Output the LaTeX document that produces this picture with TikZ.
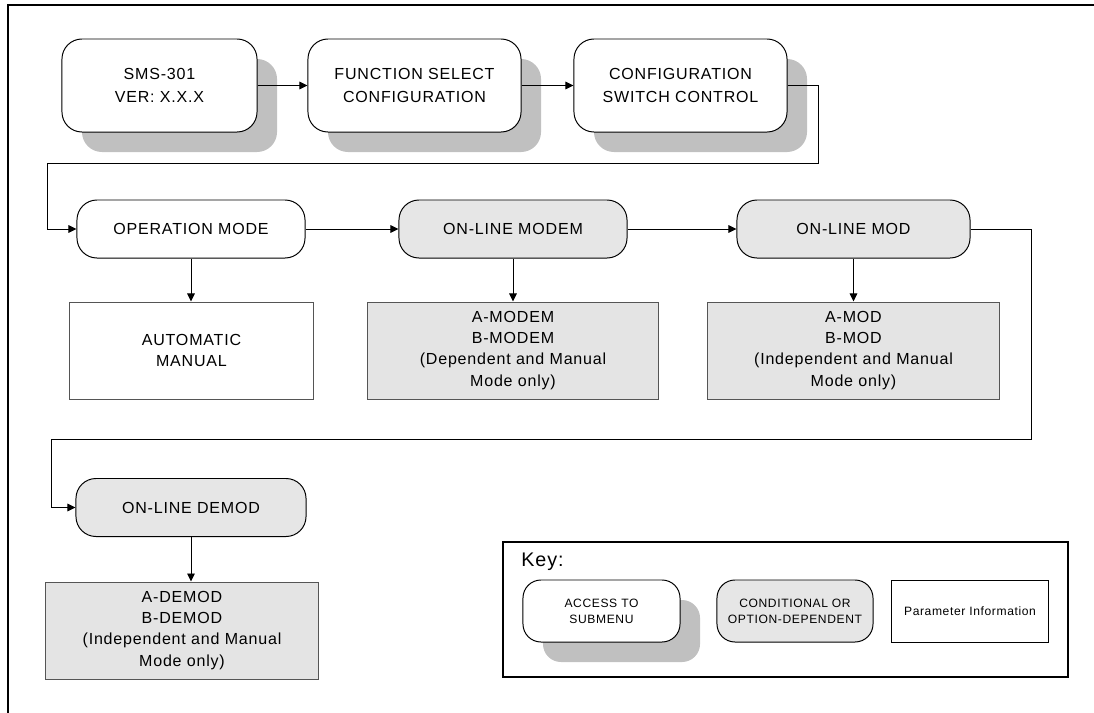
\documentclass[tikz,border=0pt]{standalone}
\usepackage{fontspec}
\setmainfont{Liberation Sans}[LetterSpace=5]
\usepackage{xcolor}
\usetikzlibrary{arrows.meta, shadows, positioning}
\definecolor{shadowgray}{RGB}{192,192,192}
\definecolor{condgray}{RGB}{230,230,230}
\definecolor{paramgray}{RGB}{228,228,228}
\definecolor{edgegray}{RGB}{85,85,85}

\begin{document}
\begin{tikzpicture}[
    x=0.025cm, y=-0.025cm,
    submenu/.style={draw, line width=0.7pt, fill=white, rounded corners=0.5cm, align=center, inner sep=0pt,
        font=\fontsize{11.4}{16}\selectfont, minimum width=5.325cm, minimum height=2.325cm,
        drop shadow={shadow xshift=0.5cm, shadow yshift=-0.5cm, fill=shadowgray, opacity=1}},
    menu/.style={draw, line width=0.7pt, fill=white, rounded corners=0.5cm, align=center, inner sep=0pt,
        font=\fontsize{11.4}{16}\selectfont, minimum width=5.7cm, minimum height=1.45cm},
    conditional/.style={menu, fill=condgray},
    param/.style={draw=edgegray, line width=0.7pt, fill=white, align=center, inner sep=0pt,
        font=\fontsize{11.4}{15}\selectfont, minimum width=6.075cm, minimum height=2.425cm},
    paramcond/.style={param, fill=paramgray},
    flow/.style={-{Triangle[length=2mm, width=1.9mm]}, line width=0.6pt}
]
    \useasboundingbox (0,0) rectangle (1094,712);

    % Page frame
    \draw[line width=2.1pt] (1110,5) -- (8,5) -- (8,730);

    % Top row
    \node[submenu, minimum width=4.875cm] (sms) at (159.5,85.5) {SMS-301\\VER: X.X.X};
    \node[submenu] (fsel) at (414.5,85.5) {FUNCTION SELECT\\CONFIGURATION};
    \node[submenu] (cfg) at (680.5,85.5) {CONFIGURATION\\SWITCH CONTROL};

    % Second row
    \node[menu] (opmode) at (191,229) {OPERATION MODE};
    \node[conditional] (modem) at (513,229) {ON-LINE MODEM};
    \node[conditional, minimum width=5.825cm] (mod) at (853.5,229) {ON-LINE MOD};

    \node[param] (auto) at (191.5,350.5) {AUTOMATIC\\MANUAL};
    \node[paramcond, minimum width=7.25cm] (modemp) at (513,350.5)
        {A-MODEM\\B-MODEM\\(Dependent and Manual\\Mode only)};
    \node[paramcond, minimum width=7.275cm] (modp) at (853.5,350.5)
        {A-MOD\\B-MOD\\(Independent and Manual\\Mode only)};

    % Third row
    \node[conditional, minimum width=5.75cm] (demod) at (191,507.5) {ON-LINE DEMOD};
    \node[paramcond, minimum width=6.8cm] (demodp) at (182,630.5)
        {A-DEMOD\\B-DEMOD\\(Independent and Manual\\Mode only)};

    % Bends of the long connectors
    \coordinate (c1) at (818,163);
    \coordinate (c2) at (47,163);
    \coordinate (d1) at (1031,439);
    \coordinate (d2) at (51,439);

    % Connectors
    \draw[flow] (sms) -- (fsel);
    \draw[flow] (fsel) -- (cfg);
    \draw[flow] (cfg.east) -| (c1) -- (c2) |- (opmode.west);
    \draw[flow] (opmode) -- (modem);
    \draw[flow] (modem) -- (mod);
    \draw[flow] (mod.east) -| (d1) -- (d2) |- (demod.west);
    \draw[flow] (opmode.south) -- (opmode.south |- auto.north);
    \draw[flow] (modem.south) -- (modem.south |- modemp.north);
    \draw[flow] (mod.south) -- (mod.south |- modp.north);
    \draw[flow] (demod.south) -- (demod.south |- demodp.north);

    % Key
    \node[draw, line width=1pt, minimum width=14.125cm, minimum height=3.375cm] (key) at (785.5,609.5) {};
    \node[anchor=west, inner sep=0pt, font=\fontsize{14}{16}\selectfont] (keytitle) at (521,562) {Key:};
    \node[submenu, rounded corners=0.45cm, minimum width=3.925cm, minimum height=1.55cm,
        font=\fontsize{8.6}{11.5}\selectfont] (keysub) at (601.5,611) {ACCESS TO\\SUBMENU};
    \node[conditional, rounded corners=0.45cm, minimum width=3.9cm, minimum height=1.55cm,
        font=\fontsize{8.6}{11.5}\selectfont] (keycond) at (795,611) {CONDITIONAL OR\\OPTION-DEPENDENT};
    \node[param, draw=black, minimum width=3.9cm, minimum height=1.55cm,
        font=\fontsize{8.6}{11.5}\selectfont] (keyparam) at (970,611) {Parameter Information};
\end{tikzpicture}
\end{document}
